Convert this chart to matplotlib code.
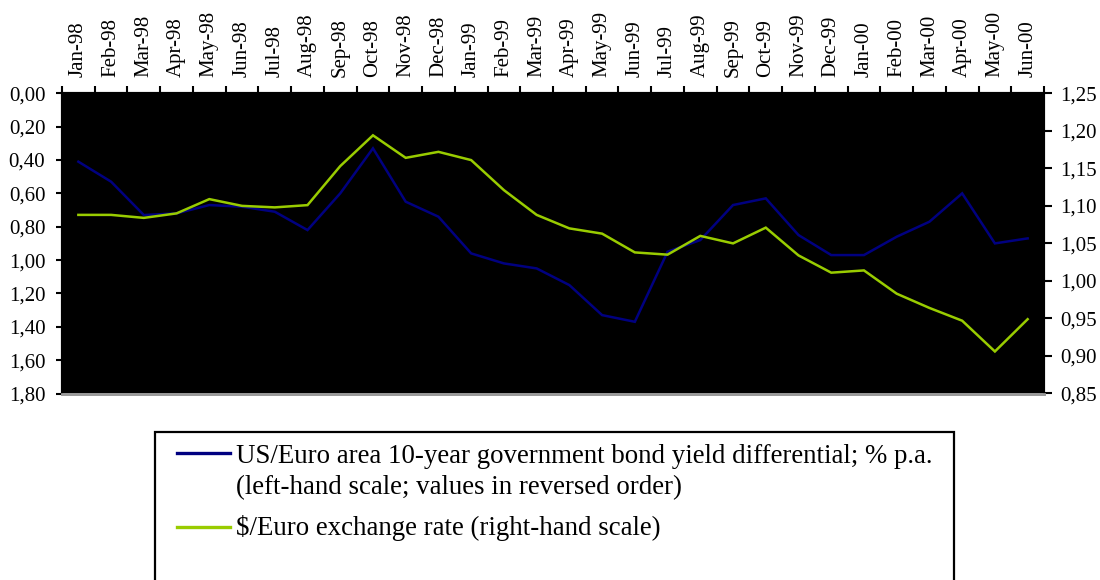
import matplotlib
matplotlib.use("Agg")
import matplotlib.pyplot as plt
from matplotlib.lines import Line2D
from matplotlib.patches import Rectangle
from matplotlib.ticker import FuncFormatter, FixedLocator

plt.rcParams["font.family"] = ["Liberation Serif", "DejaVu Serif"]

months = ["Jan-98", "Feb-98", "Mar-98", "Apr-98", "May-98", "Jun-98", "Jul-98", "Aug-98",
          "Sep-98", "Oct-98", "Nov-98", "Dec-98", "Jan-99", "Feb-99", "Mar-99", "Apr-99",
          "May-99", "Jun-99", "Jul-99", "Aug-99", "Sep-99", "Oct-99", "Nov-99", "Dec-99",
          "Jan-00", "Feb-00", "Mar-00", "Apr-00", "May-00", "Jun-00"]

# US minus euro area 10-year government bond yields, % p.a.
yield_diff = [0.41, 0.53, 0.73, 0.72, 0.67, 0.68, 0.71, 0.82, 0.60, 0.33, 0.65, 0.74,
              0.96, 1.02, 1.05, 1.15, 1.33, 1.37, 0.95, 0.88, 0.67, 0.63, 0.85, 0.97,
              0.97, 0.86, 0.77, 0.60, 0.90, 0.87]

# US dollar per euro, monthly average
usd_eur = [1.088, 1.088, 1.084, 1.090, 1.109, 1.100, 1.098, 1.101, 1.153, 1.194, 1.164, 1.172,
           1.161, 1.121, 1.088, 1.070, 1.063, 1.038, 1.035, 1.060, 1.050, 1.071, 1.034, 1.011,
           1.014, 0.983, 0.964, 0.947, 0.906, 0.949]

left_ticks = [0.00, 0.20, 0.40, 0.60, 0.80, 1.00, 1.20, 1.40, 1.60, 1.80]
right_ticks = [0.85, 0.90, 0.95, 1.00, 1.05, 1.10, 1.15, 1.20, 1.25]

label_diff = ["US/Euro area 10-year government bond yield differential; % p.a.",
              "(left-hand scale; values in reversed order)"]
label_fx = ["$/Euro exchange rate (right-hand scale)"]

BLUE = "#000080"
GREEN = "#99CC00"
FS = 15
LEGEND_FS = 19.4

W, H = 1100, 580
fig = plt.figure(figsize=(W / 100, H / 100), dpi=100)
fig.patch.set_facecolor("white")

x0, x1, ytop, ybot = 62, 1044, 93.3, 393.5
ax = fig.add_axes([x0 / W, 1 - ybot / H, (x1 - x0) / W, (ybot - ytop) / H])
ax.set_facecolor("black")

xs = list(range(len(months)))
ax.plot(xs, yield_diff, color=BLUE, lw=1.8, solid_joinstyle="miter", zorder=3)
ax.set_xlim(-0.5, len(months) - 0.5)
ax.set_ylim(1.8, 0.0)
ax.set_yticks(left_ticks)
comma = FuncFormatter(lambda v, p: f"{v:.2f}".replace(".", ","))
ax.yaxis.set_major_formatter(comma)

ax2 = ax.twinx()
ax2.plot(xs, usd_eur, color=GREEN, lw=1.8, solid_joinstyle="miter", zorder=3)
ax2.set_ylim(0.85, 1.25)
ax2.set_yticks(right_ticks)
ax2.yaxis.set_major_formatter(comma)

# Category axis at the top: ticks on boundaries, labels centred in each month
ax.xaxis.set_ticks_position("top")
ax.xaxis.set_label_position("top")
ax.xaxis.set_major_locator(FixedLocator([i - 0.5 for i in range(len(months) + 1)]))
ax.xaxis.set_major_formatter(FuncFormatter(lambda v, p: ""))
ax.set_xticks(xs, minor=True)
ax.set_xticklabels(months, minor=True, rotation=90, fontsize=FS)
ax.tick_params(axis="x", which="major", direction="out", length=5, width=1.5,
               top=True, bottom=False, color="black")
ax.tick_params(axis="x", which="minor", length=0, pad=12, top=True, bottom=False,
               labeltop=True, labelbottom=False)
for t in ax.xaxis.get_minorticklabels():
    t.set_verticalalignment("bottom")

ax.tick_params(axis="y", direction="out", length=4, width=1.5, labelsize=FS, pad=8)
ax2.tick_params(axis="y", direction="out", length=5.5, width=1.5, labelsize=FS, pad=6)

for a in (ax, ax2):
    a.spines["top"].set_color("black")
    a.spines["top"].set_linewidth(1.5)
    a.spines["left"].set_linewidth(1.5)
    a.spines["right"].set_linewidth(1.5)
    a.spines["bottom"].set_color("#9a9a9a")
    a.spines["bottom"].set_linewidth(2.0)

# Legend box, running past the bottom edge of the figure
def fx(px):
    return px / W

def fy(py):
    return 1 - py / H

box = Rectangle((fx(155), fy(600)), fx(954) - fx(155), fy(432) - fy(600),
                transform=fig.transFigure, facecolor="white", edgecolor="black",
                lw=1.6, clip_on=False)
fig.add_artist(box)

# (colour, text lines, handle y, first baseline y) in pixels from the top
entries = [(BLUE, label_diff, 453, 463), (GREEN, label_fx, 527, 535)]
line_step = 31
for color, lines, handle_y, base_y in entries:
    fig.add_artist(Line2D([fx(177), fx(230)], [fy(handle_y), fy(handle_y)], color=color,
                          lw=2.4, transform=fig.transFigure))
    for k, line in enumerate(lines):
        fig.text(fx(236), fy(base_y + k * line_step), line, fontsize=LEGEND_FS,
                 ha="left", va="baseline", transform=fig.transFigure)

fig.savefig("out.png", dpi=100, facecolor="white")
